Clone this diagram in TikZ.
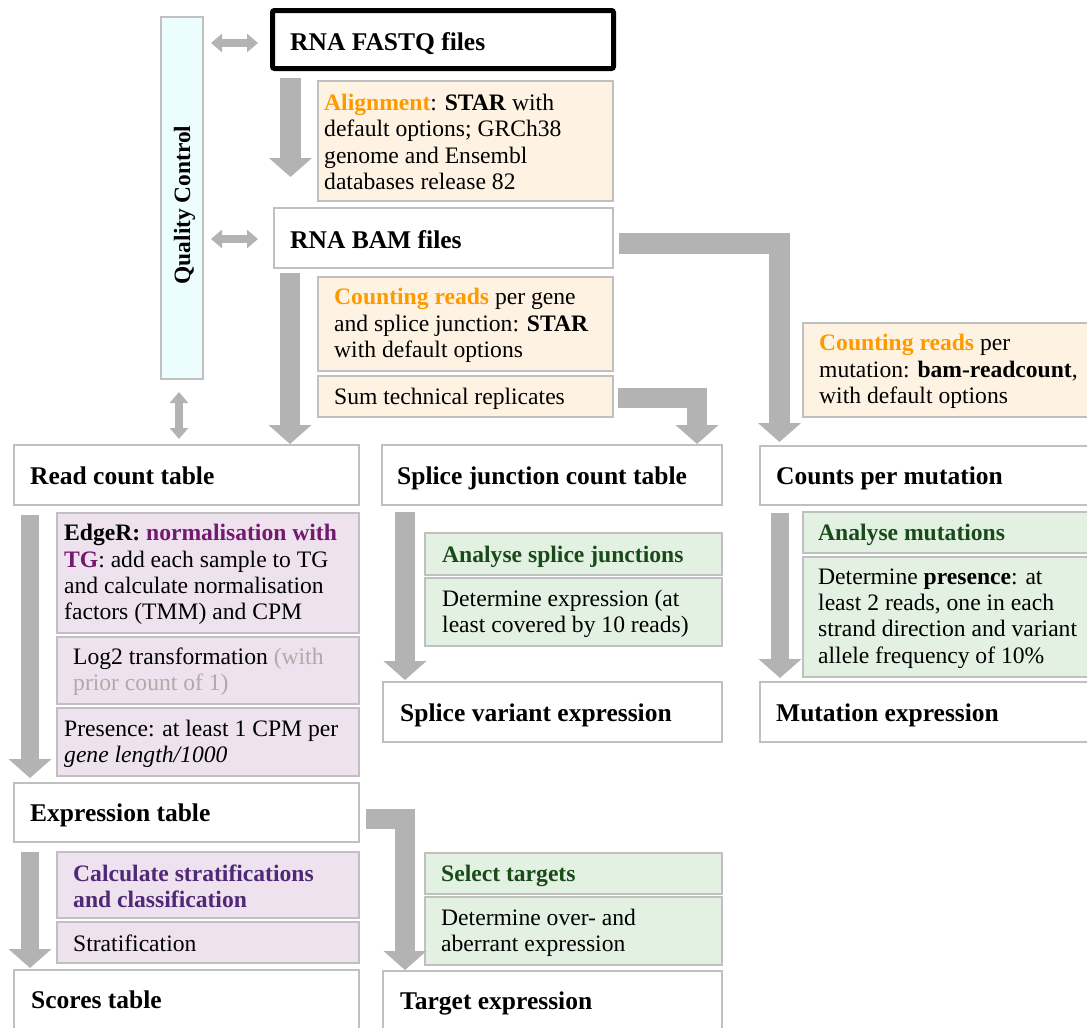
\documentclass[tikz,border=0pt]{standalone}
\usepackage{fontspec}
\setmainfont{Liberation Serif}
\usetikzlibrary{arrows.meta,calc}

\definecolor{arrowgray}{RGB}{179,179,179}
\definecolor{boxline}{RGB}{192,192,192}
\definecolor{qcfill}{RGB}{236,253,253}
\definecolor{orfill}{RGB}{254,243,227}
\definecolor{pufill}{RGB}{237,226,237}
\definecolor{grfill}{RGB}{226,241,226}
\definecolor{hilite}{RGB}{255,153,0}
\definecolor{tgpurple}{RGB}{115,25,110}
\definecolor{strpurple}{RGB}{80,40,120}
\definecolor{darkgreen}{RGB}{25,75,25}
\definecolor{softgray}{RGB}{178,170,170}

% a framed box given by its corners (x1,y1) and (x2,y2)
\newcommand\panel[6]{%
  \node[#2, anchor=north west, minimum width=#5-#3, minimum height=#6-#4] (#1) at (#3,#4) {};}

\tikzset{
  panelbase/.style={draw=boxline, line width=1.2pt, inner sep=0pt, outer sep=0pt},
  plainbox/.style={panelbase, fill=white},
  qcbox/.style={panelbase, fill=qcfill},
  orbox/.style={panelbase, fill=orfill},
  pubox/.style={panelbase, fill=pufill},
  grbox/.style={panelbase, fill=grfill},
  fastqbox/.style={draw=black, line width=5pt, rounded corners=2pt, fill=white, inner sep=0pt, outer sep=0pt},
  body/.style={inner sep=0pt, align=left, font=\fontsize{23.6}{26.2}\selectfont},
  title/.style={inner sep=0pt, font=\fontsize{25.5}{30}\selectfont\bfseries, text height=22pt, text depth=4pt},
  qclabel/.style={inner sep=0pt, font=\fontsize{23.4}{26}\selectfont\bfseries},
  flow/.style={draw=arrowgray, line width=20pt, line join=miter, -{Triangle[width=42pt,length=19pt]}},
  qclink/.style={draw=arrowgray, line width=8pt, {Triangle[width=18pt,length=11pt]}-{Triangle[width=18pt,length=11pt]}},
}

\begin{document}
\begin{tikzpicture}[x=1pt,y=-1pt]
\useasboundingbox (0,0) rectangle (1087,1028);
\clip (0,0) rectangle (1087,1028);

% quality control column
\panel{qc}{qcbox}{161}{17}{203}{379}
\node[qclabel, rotate=90, anchor=base] (qc-t) at (190,205) {Quality Control};

% input and alignment
\node[fastqbox, anchor=north west, minimum width=341, minimum height=58] (fastq) at (272.5,10.5) {};
\node[title, anchor=west] (fastq-t) at ($(fastq.west)+(17.5,2)$) {RNA FASTQ files};

\panel{align}{orbox}{318}{81}{613}{201}
\node[body, anchor=west] (align-t) at ($(align.west)+(6,1)$)
  {\textcolor{hilite}{\textbf{Alignment}}: \textbf{STAR} with\\default options; GRCh38\\genome and Ensembl\\databases release 82};

\panel{bam}{plainbox}{274}{208}{613}{268}
\node[title, anchor=west] (bam-t) at ($(bam.west)+(16,1)$) {RNA BAM files};

\panel{count}{orbox}{318}{277}{613}{371}
\node[body, anchor=west] (count-t) at ($(count.west)+(16,1.5)$)
  {\textcolor{hilite}{\textbf{Counting reads}} per gene\\and splice junction: \textbf{STAR}\\with default options};

\panel{sum}{orbox}{318}{376}{613}{417}
\node[body, anchor=west] (sum-t) at ($(sum.west)+(16,2)$) {Sum technical replicates};

\panel{countmut}{orbox}{803}{323}{1089}{417}
\node[body, anchor=west] (countmut-t) at ($(countmut.west)+(16,1.5)$)
  {\textcolor{hilite}{\textbf{Counting reads}} per\\mutation: \textbf{bam-readcount},\\with default options};

% count tables
\panel{readcount}{plainbox}{14}{445}{359}{505}
\node[title, anchor=west] (readcount-t) at ($(readcount.west)+(16,0)$) {Read count table};

\panel{splicecount}{plainbox}{382}{445}{722}{505}
\node[title, anchor=west] (splicecount-t) at ($(splicecount.west)+(15,0)$) {Splice junction count table};

\panel{mutcount}{plainbox}{760}{446}{1089}{505}
\node[title, anchor=west] (mutcount-t) at ($(mutcount.west)+(16,0)$) {Counts per mutation};

% expression branch
\panel{edger}{pubox}{57}{513}{359}{633}
\node[body, anchor=west] (edger-t) at ($(edger.west)+(7,1.5)$)
  {\textbf{EdgeR: \textcolor{tgpurple}{normalisation with}}\\\textcolor{tgpurple}{\textbf{TG}}: add each sample to TG\\and calculate normalisation\\factors (TMM) and CPM};

\panel{logtwo}{pubox}{57}{637}{359}{704}
\node[body, anchor=west] (logtwo-t) at ($(logtwo.west)+(16,1.5)$)
  {Log2 transformation \textcolor{softgray}{(with}\\\textcolor{softgray}{prior count of 1)}};

\panel{presence}{pubox}{57}{708}{359}{776}
\node[body, anchor=west] (presence-t) at ($(presence.west)+(7,1.5)$)
  {Presence: at least 1 CPM per\\\textit{gene length/1000}};

\panel{expr}{plainbox}{14}{783}{359}{842}
\node[title, anchor=west] (expr-t) at ($(expr.west)+(16,0)$) {Expression table};

\panel{calc}{pubox}{57}{852}{359}{918}
\node[body, anchor=west] (calc-t) at ($(calc.west)+(16,1.5)$)
  {\textcolor{strpurple}{\textbf{Calculate stratifications}}\\\textcolor{strpurple}{\textbf{and classification}}};

\panel{strat}{pubox}{57}{922}{359}{963}
\node[body, anchor=west] (strat-t) at ($(strat.west)+(16,1)$) {Stratification};

\panel{scores}{plainbox}{14}{970}{359}{1029}
\node[title, anchor=west] (scores-t) at ($(scores.west)+(17,0)$) {Scores table};

% splice junction branch
\panel{spl}{grbox}{425}{533}{722}{575}
\node[body, anchor=west] (spl-t) at ($(spl.west)+(17,2.5)$)
  {\textcolor{darkgreen}{\textbf{Analyse splice junctions}}};

\panel{detexp}{grbox}{425}{578}{722}{646}
\node[body, anchor=west] (detexp-t) at ($(detexp.west)+(17,1.5)$)
  {Determine expression (at\\least covered by 10 reads)};

\panel{splvar}{plainbox}{383}{682}{722}{742}
\node[title, anchor=west] (splvar-t) at ($(splvar.west)+(17,0)$) {Splice variant expression};

% target branch
\panel{sel}{grbox}{425}{853}{722}{894}
\node[body, anchor=west] (sel-t) at ($(sel.west)+(16,2.5)$)
  {\textcolor{darkgreen}{\textbf{Select targets}}};

\panel{detover}{grbox}{425}{897}{722}{965}
\node[body, anchor=west] (detover-t) at ($(detover.west)+(16,1.5)$)
  {Determine over- and\\aberrant expression};

\panel{target}{plainbox}{383}{971}{722}{1029}
\node[title, anchor=west] (target-t) at ($(target.west)+(17,0)$) {Target expression};

% mutation branch
\panel{mut}{grbox}{803}{512}{1089}{553}
\node[body, anchor=west] (mut-t) at ($(mut.west)+(15,2.5)$)
  {\textcolor{darkgreen}{\textbf{Analyse mutations}}};

\panel{detpres}{grbox}{803}{557}{1089}{677}
\node[body, anchor=west] (detpres-t) at ($(detpres.west)+(15,1.5)$)
  {Determine \textbf{presence}: at\\least 2 reads, one in each\\strand direction and variant\\allele frequency of 10\%};

\panel{mutexpr}{plainbox}{760}{682}{1089}{742}
\node[title, anchor=west] (mutexpr-t) at ($(mutexpr.west)+(16,0)$) {Mutation expression};

% quality control links
\draw[qclink] ($(qc.east |- fastq.west)+(8,3.5)$) -- ($(fastq.west)+(-14.5,3.5)$);
\draw[qclink] ($(qc.east |- bam.west)+(8,1)$) -- ($(bam.west)+(-16,1)$);
\draw[qclink] ($(qc.south)+(-3,13)$) -- ($(readcount.north -| qc.south)+(-3,-6)$);

% processing flow
\draw[flow, line width=21pt] ($(fastq.south west)+(18,9.5)$) -- ($(bam.north west)+(16.5,-31)$);
\draw[flow] ($(bam.south west)+(16,5)$) -- ($(readcount.north west)+(276,-1)$);
\draw[flow] ($(sum.east)+(5,1.5)$) -| ($(splicecount.north west)+(315,-1)$);
\draw[flow, line width=21pt] ($(bam.east)+(6,5)$) -| ($(mutcount.north west)+(19.5,-4)$);
\draw[flow, line width=18pt] ($(readcount.south west)+(16,10)$) -- ($(expr.north west)+(16,-5)$);
\draw[flow, line width=18pt] ($(expr.south west)+(16,10)$) -- ($(scores.north west)+(16,-2)$);
\draw[flow] ($(splicecount.south west)+(23,7)$) -- ($(splvar.north west)+(22,-2)$);
\draw[flow, line width=18pt] ($(mutcount.south west)+(20,8)$) -- ($(mutexpr.north west)+(20,-4)$);
\draw[flow] ($(expr.east)+(7,6)$) -| ($(target.north west)+(22,-1)$);
\end{tikzpicture}
\end{document}
